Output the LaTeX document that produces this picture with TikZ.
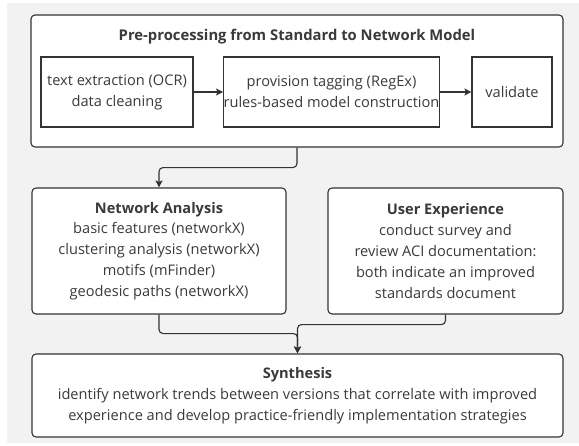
\documentclass[tikz,border=0pt]{standalone}
\usepackage{fontspec}
\setmainfont{Open Sans}
\usetikzlibrary{arrows.meta}
\definecolor{bggray}{HTML}{F2F2F2}
\definecolor{ink}{HTML}{333333}
\definecolor{txt}{HTML}{3A3A3A}
\tikzset{
  box/.style={draw=ink, line width=1.1pt, fill=white, inner sep=0pt, align=center, text=txt,
    font=\fontsize{14.6}{20.8}\selectfont},
  rbox/.style={box, rounded corners=4pt},
  conn/.style={draw=ink, line width=1.1pt, rounded corners=4pt},
  arr/.style={conn, -{Stealth[length=7pt,width=7pt,inset=1.5pt]}},
  ttl/.style={font=\fontsize{14.8}{20.8}\selectfont\bfseries, text=txt, inner sep=0pt}
}
\begin{document}
\begin{tikzpicture}[x=1pt,y=-1pt]
\useasboundingbox (0,0) rectangle (579,445);
\fill[white] (0,0) rectangle (579,445);
\fill[bggray] (7,3) rectangle (579,443);
% top container
\node[rbox, minimum width=532pt, minimum height=132pt] (top) at (297,81) {};
\node[ttl] (toptitle) at (297,37) {Pre-processing from Standard to Network Model};
\node[box, minimum width=152pt, minimum height=70pt] (b1) at (117,92) {text extraction (OCR)\\data cleaning};
\node[box, minimum width=215pt, minimum height=70pt] (b2) at (331.5,92) {provision tagging (RegEx)\\rules-based model construction};
\node[box, minimum width=80pt, minimum height=70pt] (b3) at (512,92) {validate};
% middle
\node[rbox, minimum width=254pt, minimum height=126pt] (na) at (159,251)
  {\textbf{Network Analysis}\\basic features (networkX)\\clustering analysis (networkX)\\motifs (mFinder)\\geodesic paths (networkX)};
\node[rbox, minimum width=235pt, minimum height=126pt] (ue) at (445.5,251)
  {\textbf{User Experience}\\conduct survey and\\review ACI documentation:\\both indicate an improved\\standards document};
% bottom
\node[rbox, minimum width=531pt, minimum height=83pt] (syn) at (297.5,395.5)
  {\textbf{Synthesis}\\identify network trends between versions that correlate with improved\\experience and develop practice-friendly implementation strategies};
% connectors
\draw[arr] (b1.east) -- (b2.west);
\draw[arr] (b2.east) -- (b3.west);
\draw[arr] (top.south) -- ++(0,20) -| (na.north);
\draw[arr] (na.south) -- ++(0,19) -| (syn.north);
\draw[arr] (ue.south) -- ++(0,10) -| (syn.north);
\end{tikzpicture}
\end{document}
